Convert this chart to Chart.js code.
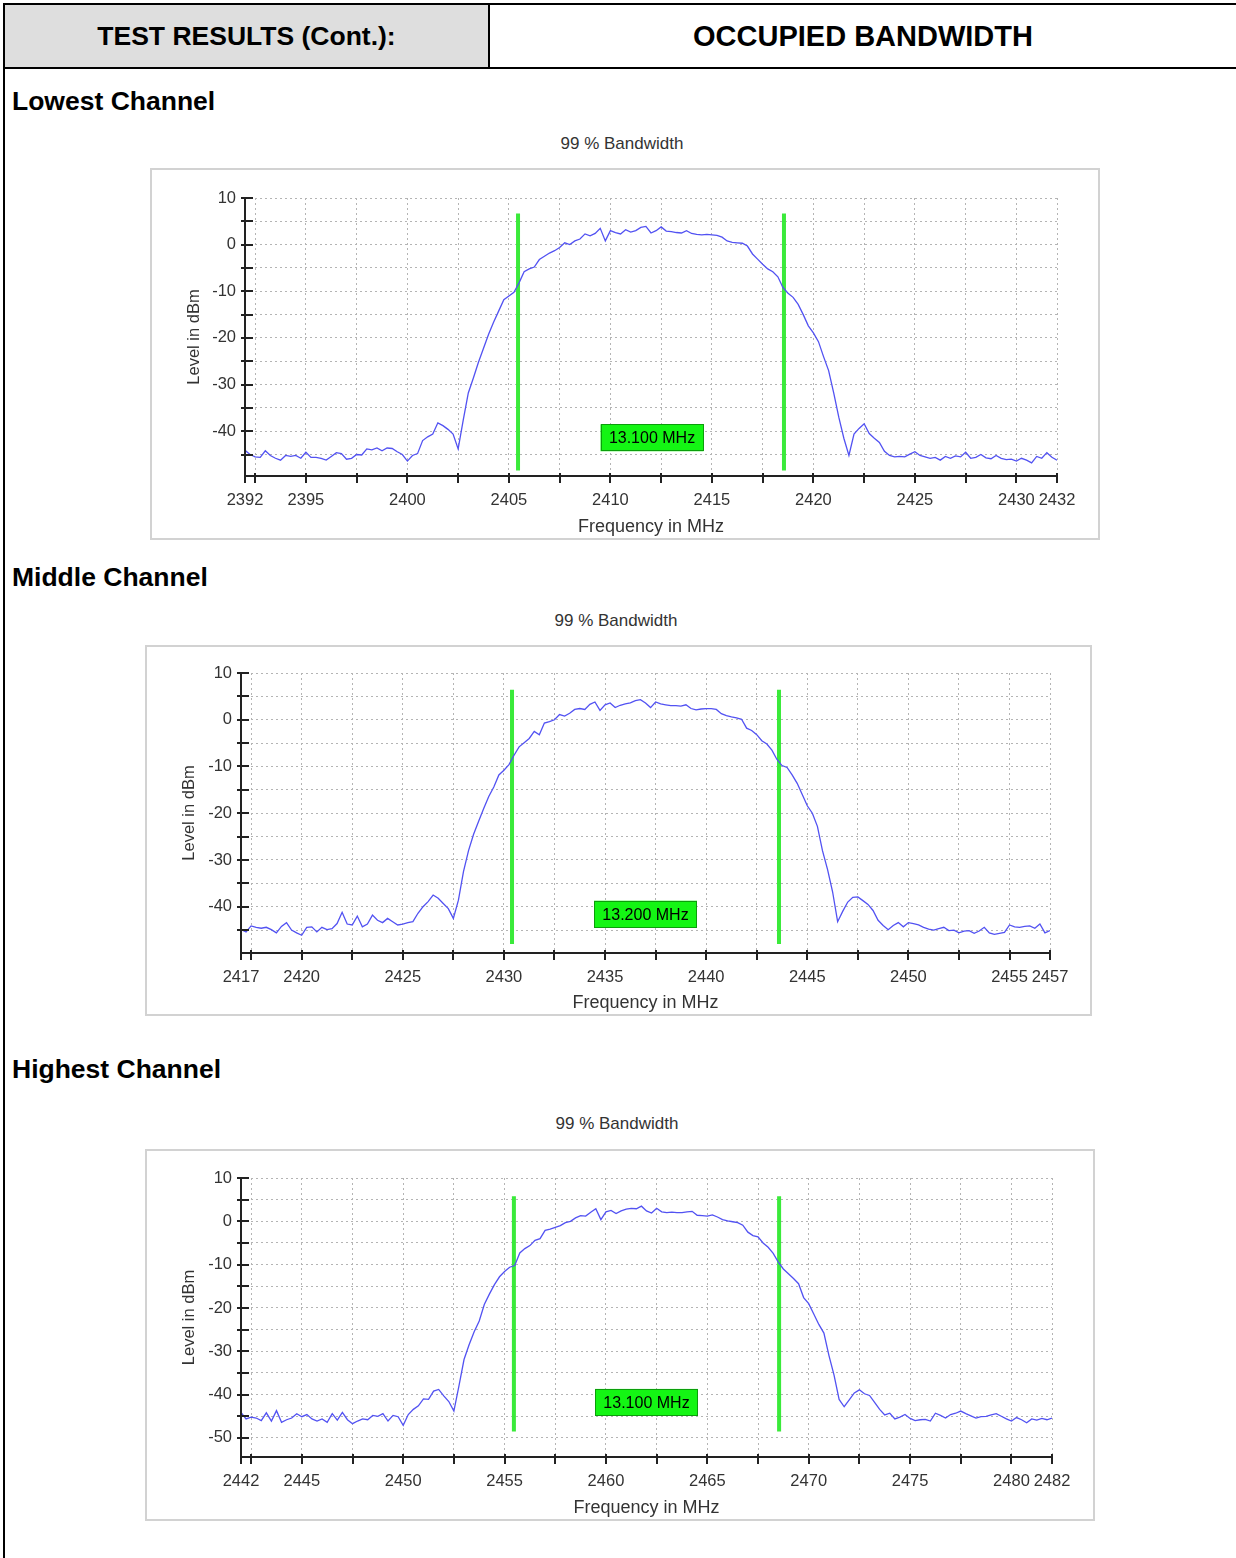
<!DOCTYPE html>
<html>
<head>
<meta charset="utf-8">
<script src="https://cdn.jsdelivr.net/npm/chart.js@4.4.0/dist/chart.umd.min.js"></script>
<style>
  html, body { margin: 0; padding: 0; background: #fff; }
  body { width: 1236px; height: 1558px; position: relative; overflow: hidden;
         font-family: "Liberation Sans", Arial, sans-serif; color: #000; }
  .rule { position: absolute; background: #000; }
  .cell { position: absolute; text-align: center; font-weight: bold; }
  .heading { position: absolute; left: 12px; font-weight: bold; font-size: 26.5px; line-height: 30px; }
  .ctitle { position: absolute; width: 300px; text-align: center; font-size: 17px; line-height: 20px; color: #333; }
  .frame { position: absolute; box-sizing: border-box; border: 2px solid #d2d2d2; }
  canvas { position: absolute; }
</style>
</head>
<body>
<!-- header table -->
<div class="cell" style="left:5px;top:5px;width:483px;height:62px;background:#dedede;line-height:62px;font-size:26.5px;">TEST RESULTS (Cont.):</div>
<div class="cell" style="left:490px;top:5px;width:746px;height:62px;line-height:62px;font-size:29px;">OCCUPIED BANDWIDTH</div>
<div class="rule" style="left:3px;top:3px;width:1233px;height:2px;"></div>
<div class="rule" style="left:3px;top:67px;width:1233px;height:2px;"></div>
<div class="rule" style="left:488px;top:3px;width:2px;height:66px;"></div>
<div class="rule" style="left:3px;top:3px;width:2px;height:1555px;"></div>

<div class="heading" style="top:86px;">Lowest Channel</div>
<div class="heading" style="top:562px;">Middle Channel</div>
<div class="heading" style="top:1054px;">Highest Channel</div>

<div class="ctitle" style="left:472px;top:134px;">99 % Bandwidth</div>
<div class="ctitle" style="left:466px;top:611px;">99 % Bandwidth</div>
<div class="ctitle" style="left:467px;top:1114px;">99 % Bandwidth</div>

<div class="frame" style="left:150px;top:168px;width:950px;height:372px;"></div>
<div class="frame" style="left:145px;top:645px;width:947px;height:371px;"></div>
<div class="frame" style="left:145px;top:1149px;width:950px;height:372px;"></div>

<canvas id="lowChart" width="950" height="372" style="left:150px;top:168px;"></canvas>
<canvas id="midChart" width="947" height="371" style="left:145px;top:645px;"></canvas>
<canvas id="highChart" width="950" height="372" style="left:145px;top:1149px;"></canvas>

<script>
// sweep: 161 points, 0.25 MHz apart
const SWEEP_STEP = 0.25;

const lowStart = 2392, lowStop = 2432;
const lowLevels = [
  -44.1, -45.0, -45.5, -45.6, -44.2, -45.2, -45.8, -46.2, -45.2, -45.4,
  -45.2, -45.8, -44.5, -45.6, -45.6, -45.8, -46.2, -45.4, -44.6, -44.8,
  -46.0, -45.8, -45.0, -45.1, -43.8, -44.0, -43.6, -44.2, -43.6, -43.7,
  -44.4, -45.0, -46.4, -45.2, -44.8, -42.0, -41.2, -40.6, -38.2, -38.8,
  -39.6, -40.6, -43.8, -37.6, -31.8, -28.6, -25.2, -22.2, -19.2, -16.6,
  -14.2, -11.8, -11.0, -10.2, -8.2, -5.8, -5.2, -4.8, -3.2, -2.5,
  -1.8, -1.3, -0.6, 0.4, 0.0, 0.8, 1.2, 2.3, 1.9, 2.4,
  3.5, 0.8, 3.0, 2.6, 2.3, 3.2, 2.7, 3.0, 3.7, 3.9,
  2.5, 3.0, 3.8, 2.9, 2.8, 2.6, 2.5, 3.0, 2.4, 2.2,
  2.1, 2.2, 2.1, 2.0, 1.6, 0.8, 0.5, 0.4, 0.3, -0.3,
  -2.0, -3.1, -4.2, -5.2, -5.8, -6.9, -9.2, -10.4, -11.3, -12.8,
  -15.0, -17.4, -18.9, -20.8, -24.0, -27.0, -31.8, -37.0, -41.5, -45.2,
  -40.6, -39.4, -38.4, -40.5, -41.5, -42.4, -44.3, -45.2, -45.5, -45.4,
  -45.5, -44.9, -44.4, -45.2, -45.5, -45.8, -45.6, -46.2, -45.4, -45.8,
  -45.3, -45.5, -44.5, -45.8, -45.6, -45.0, -45.7, -45.9, -45.2, -45.8,
  -46.1, -46.0, -46.4, -45.8, -46.2, -46.8, -45.4, -45.8, -44.6, -45.6,
  -46.2
];
const lowMarkers = [2405.45, 2418.55];
const lowBandwidth = '13.100 MHz';

const midStart = 2417, midStop = 2457;
const midLevels = [
  -44.9, -45.4, -44.1, -44.4, -44.6, -44.4, -44.9, -45.6, -44.2, -43.4,
  -45.0, -45.6, -46.1, -44.4, -44.3, -45.4, -44.4, -44.9, -44.7, -43.6,
  -41.2, -43.7, -43.9, -42.0, -44.3, -43.7, -41.8, -42.9, -43.4, -42.5,
  -43.2, -43.9, -43.7, -43.4, -43.2, -41.4, -40.0, -38.9, -37.5, -38.2,
  -39.3, -40.4, -42.5, -38.6, -32.5, -28.0, -24.5, -21.7, -19.0, -16.4,
  -14.4, -11.8, -10.8, -9.6, -7.6, -5.8, -4.9, -4.0, -2.5, -3.2,
  -0.7, -0.4, 0.0, 1.1, 0.8, 1.4, 2.2, 2.4, 2.2, 3.3,
  3.8, 2.0, 3.2, 3.6, 2.6, 3.1, 3.4, 3.6, 4.1, 4.3,
  3.6, 2.6, 3.8, 3.4, 3.2, 3.0, 3.0, 2.9, 3.2, 2.4,
  2.1, 2.3, 2.4, 2.4, 2.2, 1.3, 0.9, 0.6, 0.4, 0.1,
  -1.8, -2.3, -3.2, -4.5, -5.2, -6.5, -8.5, -9.8, -10.2, -11.8,
  -13.6, -16.0, -18.4, -20.0, -22.8, -28.0, -32.0, -36.8, -43.2, -41.0,
  -39.0, -38.0, -37.9, -38.7, -39.5, -40.8, -42.9, -44.0, -44.9, -44.0,
  -43.4, -44.3, -43.4, -43.6, -43.9, -44.4, -44.8, -45.0, -44.7, -44.4,
  -45.1, -45.0, -45.6, -45.2, -45.1, -45.7, -45.2, -44.4, -45.6, -45.9,
  -45.7, -45.5, -43.9, -44.3, -44.4, -44.2, -44.1, -44.6, -43.7, -45.6,
  -45.1
];
const midMarkers = [2430.4, 2443.6];
const midBandwidth = '13.200 MHz';

const highStart = 2442, highStop = 2482;
const highLevels = [
  -44.1, -45.6, -45.2, -45.4, -46.0, -44.2, -46.1, -43.7, -46.4, -45.8,
  -45.4, -44.4, -45.1, -44.6, -45.6, -46.1, -45.6, -46.4, -44.4, -45.9,
  -44.1, -45.8, -46.7, -46.1, -45.6, -45.8, -44.8, -45.0, -44.4, -46.1,
  -44.8, -45.1, -47.1, -44.6, -43.4, -42.6, -41.0, -41.1, -39.2, -38.8,
  -40.3, -41.6, -43.8, -38.0, -31.9, -28.5, -25.5, -23.0, -19.2, -16.8,
  -14.6, -12.8, -11.6, -10.6, -10.2, -7.3, -6.3, -5.6, -4.4, -4.0,
  -2.1, -1.8, -1.4, -1.0, -0.3, 0.0, 0.8, 1.3, 1.2, 2.1,
  2.9, 0.4, 2.2, 2.5, 1.8, 2.4, 2.8, 3.0, 2.9, 3.5,
  2.4, 1.9, 3.0, 2.2, 2.0, 2.1, 2.0, 2.0, 2.2, 2.3,
  1.4, 1.3, 1.2, 1.5, 1.0, 0.4, 0.1, -0.1, -0.3, -0.9,
  -2.5, -3.3, -3.6, -5.0, -6.0, -7.4, -9.4, -11.0, -12.1, -13.2,
  -14.4, -17.6, -19.0, -21.4, -23.8, -25.8, -31.0, -35.5, -41.1, -42.8,
  -41.2, -39.6, -38.9, -39.8, -40.2, -41.8, -43.4, -44.7, -44.3, -45.6,
  -45.2, -44.6, -45.5, -46.0, -45.8, -45.7, -46.1, -44.3, -44.8, -45.4,
  -44.6, -44.3, -43.8, -44.4, -44.9, -45.4, -45.1, -45.0, -44.7, -44.4,
  -45.0, -45.6, -46.1, -45.3, -45.8, -46.5, -45.6, -45.9, -45.5, -45.8,
  -45.4
];
const highMarkers = [2455.46, 2468.54];
const highBandwidth = '13.100 MHz';

// tick values (labels shown only on multiples of 5 MHz / 10 dB and at the span ends)
const lowXTicks = [2392, 2392.5, 2395, 2397.5, 2400, 2402.5, 2405, 2407.5, 2410, 2412.5, 2415, 2417.5, 2420, 2422.5, 2425, 2427.5, 2430, 2432];
const midXTicks = [2417, 2417.5, 2420, 2422.5, 2425, 2427.5, 2430, 2432.5, 2435, 2437.5, 2440, 2442.5, 2445, 2447.5, 2450, 2452.5, 2455, 2457];
const highXTicks = [2442, 2442.5, 2445, 2447.5, 2450, 2452.5, 2455, 2457.5, 2460, 2462.5, 2465, 2467.5, 2470, 2472.5, 2475, 2477.5, 2480, 2482];
const yTicks50 = [-45, -40, -35, -30, -25, -20, -15, -10, -5, 0, 5, 10];
const yTicks55 = [-50, -45, -40, -35, -30, -25, -20, -15, -10, -5, 0, 5, 10];

Chart.defaults.font.family = '"Liberation Sans", Arial, Helvetica, sans-serif';
Chart.defaults.color = '#333';

// axis lines with ticks that cross them, drawn on top of the traces
const axisPlugin = {
  id: 'crossTicks',
  afterDatasetsDraw(chart) {
    const { ctx, chartArea: a, scales: { x, y } } = chart;
    ctx.save();
    ctx.strokeStyle = '#222';
    ctx.lineWidth = 2;
    ctx.beginPath();
    ctx.moveTo(a.left, a.top - 1);
    ctx.lineTo(a.left, a.bottom);
    ctx.lineTo(a.right + 1, a.bottom);
    x.ticks.forEach(t => {
      const px = Math.round(x.getPixelForValue(t.value));
      ctx.moveTo(px, a.bottom - 3);
      ctx.lineTo(px, a.bottom + 7);
    });
    y.ticks.forEach(t => {
      const py = Math.round(y.getPixelForValue(t.value));
      ctx.moveTo(a.left - 4, py);
      ctx.lineTo(a.left + 8, py);
    });
    ctx.stroke();
    ctx.restore();
  }
};

// green "xx.xxx MHz" readout box
const bandwidthBox = {
  id: 'bandwidthBox',
  afterDatasetsDraw(chart, args, opts) {
    const { ctx, scales: { x, y } } = chart;
    const cx = x.getPixelForValue(opts.at[0]);
    const cy = y.getPixelForValue(opts.at[1]);
    const w = 103, h = 27;
    ctx.save();
    ctx.fillStyle = '#14f514';
    ctx.fillRect(cx - w / 2, cy - h / 2, w, h);
    ctx.strokeStyle = '#0b9e0b';
    ctx.lineWidth = 1;
    ctx.strokeRect(Math.round(cx - w / 2) + 0.5, Math.round(cy - h / 2) + 0.5, w - 1, h - 1);
    ctx.fillStyle = '#000';
    ctx.font = '16px "Liberation Sans", Arial, sans-serif';
    ctx.textAlign = 'center';
    ctx.textBaseline = 'middle';
    ctx.fillText(opts.text, cx, cy + 1);
    ctx.restore();
  }
};

function makeChart(id, c) {
  const trace = c.levels.map((v, i) => ({ x: c.start + i * SWEEP_STEP, y: v }));
  const markerSets = c.markers.map(f => ({
    data: [{ x: f, y: c.markerTop }, { x: f, y: c.markerBottom }],
    borderColor: '#3aea3a',
    borderWidth: 4,
    pointRadius: 0
  }));
  return new Chart(document.getElementById(id), {
    type: 'line',
    data: {
      datasets: [
        { data: trace, borderColor: '#5252f2', borderWidth: 1.3, pointRadius: 0, tension: 0 },
        ...markerSets
      ]
    },
    options: {
      responsive: false,
      animation: false,
      events: [],
      layout: { padding: { top: c.padTop, right: c.padRight, left: 0, bottom: 0 } },
      scales: {
        x: {
          type: 'linear',
          min: c.start,
          max: c.stop,
          afterBuildTicks: s => { s.ticks = c.xTicks.map(v => ({ value: v })); },
          afterFit: s => { s.height = c.xHeight; },
          ticks: {
            autoSkip: false,
            maxRotation: 0,
            minRotation: 0,
            padding: 15,
            color: '#333',
            font: { size: 16.5 },
            callback: v => (v % 5 === 0 || v === c.start || v === c.stop) ? String(v) : ''
          },
          grid: { color: '#b4b4b4', lineWidth: 1, drawTicks: false },
          border: { display: false, dash: [2, 3] },
          title: { display: true, text: 'Frequency in MHz', color: '#333', font: { size: 18 }, padding: { top: 0, bottom: 2 } }
        },
        y: {
          type: 'linear',
          min: c.yMin,
          max: 10,
          afterBuildTicks: s => { s.ticks = c.yTicks.map(v => ({ value: v })); },
          afterFit: s => { s.width = c.yWidth; },
          ticks: {
            autoSkip: false,
            padding: 9,
            color: '#333',
            font: { size: 16.5 },
            callback: v => v % 10 === 0 ? String(v) : ''
          },
          grid: { color: '#b4b4b4', lineWidth: 1, drawTicks: false },
          border: { display: false, dash: [2, 3] },
          title: { display: true, text: 'Level in dBm', color: '#333', font: { size: 16.5 }, padding: { top: 35, bottom: 0 } }
        }
      },
      plugins: {
        legend: { display: false },
        tooltip: { enabled: false },
        bandwidthBox: { at: c.boxAt, text: c.boxText }
      }
    },
    plugins: [axisPlugin, bandwidthBox]
  });
}

makeChart('lowChart', {
  start: lowStart, stop: lowStop, levels: lowLevels, markers: lowMarkers,
  xTicks: lowXTicks, yTicks: yTicks50, yMin: -49.6,
  markerTop: 6.7, markerBottom: -48.4,
  boxAt: [2412.05, -41.4], boxText: lowBandwidth,
  padTop: 30, padRight: 43, yWidth: 95, xHeight: 64
});

makeChart('midChart', {
  start: midStart, stop: midStop, levels: midLevels, markers: midMarkers,
  xTicks: midXTicks, yTicks: yTicks50, yMin: -49.9,
  markerTop: 6.4, markerBottom: -48.0,
  boxAt: [2437.0, -41.6], boxText: midBandwidth,
  padTop: 28, padRight: 42, yWidth: 96, xHeight: 63
});

makeChart('highChart', {
  start: highStart, stop: highStop, levels: highLevels, markers: highMarkers,
  xTicks: highXTicks, yTicks: yTicks55, yMin: -54.4,
  markerTop: 5.8, markerBottom: -48.5,
  boxAt: [2462.0, -41.8], boxText: highBandwidth,
  padTop: 29, padRight: 43, yWidth: 96, xHeight: 64
});
</script>
</body>
</html>
